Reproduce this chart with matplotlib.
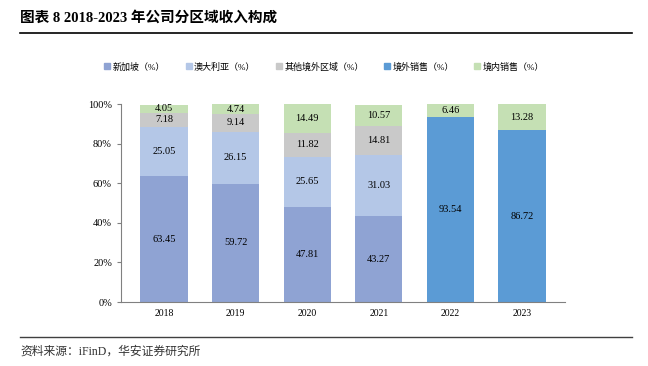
import matplotlib.pyplot as plt
import numpy as np
from matplotlib.lines import Line2D

years = ["2018", "2019", "2020", "2021", "2022", "2023"]
singapore = [63.45, 59.72, 47.81, 43.27, 0, 0]
australia = [25.05, 26.15, 25.65, 31.03, 0, 0]
other_overseas = [7.18, 9.14, 11.82, 14.81, 0, 0]
overseas = [0, 0, 0, 0, 93.54, 86.72]
domestic = [4.05, 4.74, 14.49, 10.57, 6.46, 13.28]

names = ["新加坡（%）", "澳大利亚（%）", "其他境外区域（%）", "境外销售（%）", "境内销售（%）"]
colors = ["#8fa3d3", "#b4c7e7", "#c9c9c9", "#5b9bd5", "#c5e0b4"]

FONT = ["Liberation Serif", "Noto Sans CJK SC"]
plt.rcParams["font.family"] = FONT

fig = plt.figure(figsize=(6.48, 3.66), dpi=100)
ax = fig.add_axes([121 / 648, 1 - 302 / 366, 444 / 648, 198 / 366])

series = [singapore, australia, other_overseas, overseas, domestic]
x = np.arange(len(years))
bottom = np.zeros(len(years))
for vals, c in zip(series, colors):
    vals = np.array(vals)
    ax.bar(x, vals, 0.66, bottom=bottom, color=c, zorder=2)
    for i, v in enumerate(vals):
        if v > 0:
            ax.text(x[i], bottom[i] + v / 2, f"{v:.2f}", ha="center", va="center",
                    fontsize=7.5, color="black")
    bottom += vals

ax.set_xlim(-0.6, 5.6)
ax.set_ylim(0, 100)
ax.set_xticks(x)
ax.set_xticklabels(years, fontsize=7)
ax.set_yticks(np.arange(0, 101, 20))
ax.set_yticklabels([f"{t}%" for t in range(0, 101, 20)], fontsize=7.5)
ax.tick_params(axis="x", length=0, pad=5)
ax.tick_params(axis="y", length=3, direction="out", width=0.8, color="#808080")
for s in ["top", "right"]:
    ax.spines[s].set_visible(False)
ax.spines["left"].set_color("#808080")
ax.spines["bottom"].set_color("#808080")

handles = [Line2D([0], [0], marker="s", linestyle="", markersize=4,
                  markerfacecolor=c, markeredgecolor=c) for c in colors]
fig.legend(handles, names, loc="center", bbox_to_anchor=(0.5, 1 - 67 / 366),
           ncol=5, frameon=False, handletextpad=0.2, handlelength=0.8,
           columnspacing=2.2, prop={"family": FONT, "size": 6.5})

fig.text(20 / 648, 1 - 18 / 366, "图表 8 2018-2023 年公司分区域收入构成",
         fontsize=10.5, fontweight="bold", va="center", ha="left")
fig.add_artist(Line2D([20 / 648, 632 / 648], [1 - 33 / 366, 1 - 33 / 366],
                      color="black", linewidth=1.2))
fig.add_artist(Line2D([20 / 648, 632 / 648], [1 - 337 / 366, 1 - 337 / 366],
                      color="#404040", linewidth=1.0))
fig.text(20 / 648, 1 - 352 / 366, "资料来源：iFinD，华安证券研究所",
         fontsize=8.5, va="center", ha="left", color="#333333")

fig.savefig("out.png", dpi=100)
